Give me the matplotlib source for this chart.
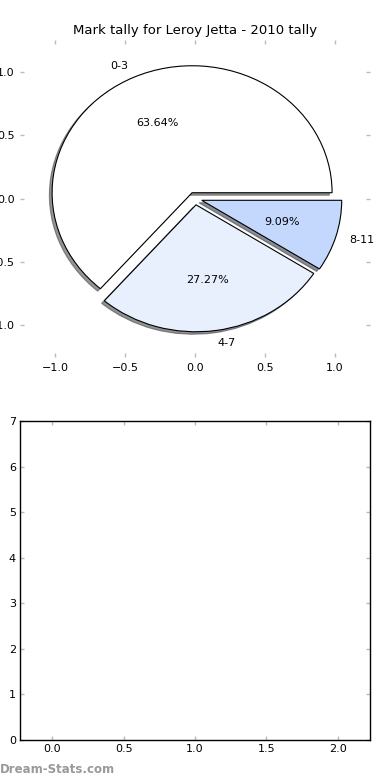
import matplotlib
matplotlib.use("Agg")
import matplotlib.pyplot as plt

labels = ["0-3", "4-7", "8-11"]
values = [7, 3, 1]
colors = ["#ffffff", "#e9f0fd", "#c4d8fe"]
explode = [0.05, 0.05, 0.05]
title = "Mark tally for Leroy Jetta - 2010 tally"

plt.rcParams['font.family'] = ['DejaVu Sans']
fig = plt.figure(figsize=(3.9, 7.8), dpi=100)

tick_grey = "#bbbbbb"

ax1 = fig.add_axes([0.0513, 0.542, 0.8974, 0.407])
wedges, texts, autotexts = ax1.pie(values, labels=labels, colors=colors, explode=explode,
                                   autopct="%1.2f%%",
                                   shadow={'ox': -0.014, 'oy': -0.014, 'alpha': 0.6},
                                   startangle=0, frame=True,
                                   wedgeprops=dict(edgecolor="black", linewidth=0.8),
                                   textprops=dict(fontsize=8))
ax1.set_aspect("auto")
ax1.set_xlim(-1.25, 1.25)
ax1.set_ylim(-1.25, 1.25)
ax1.set_xticks([-1.0, -0.5, 0.0, 0.5, 1.0])
ax1.set_yticks([-1.0, -0.5, 0.0, 0.5, 1.0])
for s in ax1.spines.values():
    s.set_visible(False)
ax1.tick_params(direction="in", length=3, width=1, color=tick_grey, labelsize=8,
                top=True, right=True, pad=4)
ax1.set_title(title, fontsize=9.5, pad=4)

ax2 = fig.add_axes([0.0513, 0.0513, 0.8974, 0.4090])
ax2.set_xlim(-0.225, 2.225)
ax2.set_ylim(0, 7)
ax2.set_xticks([0.0, 0.5, 1.0, 1.5, 2.0])
ax2.set_yticks(range(0, 8))
for s in ax2.spines.values():
    s.set_color("black")
    s.set_linewidth(1)
ax2.tick_params(direction="in", length=3, width=1, color=tick_grey, labelsize=8,
                top=True, right=True, pad=3)

fig.text(0.0, 0.005, "Dream-Stats.com", color="#999999", fontsize=8.5,
         fontweight="bold", ha="left", va="bottom")

fig.savefig("out.png", dpi=100)
